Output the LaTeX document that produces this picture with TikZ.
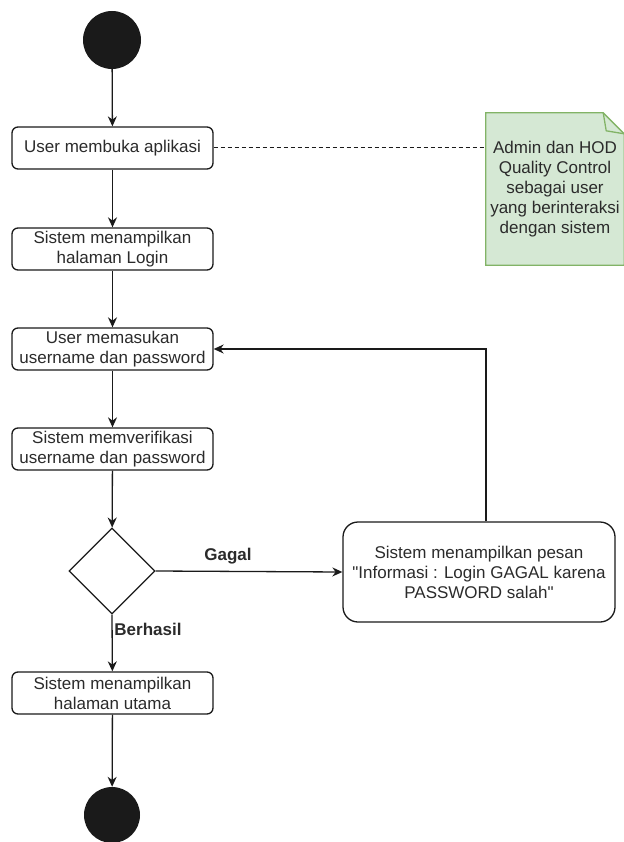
\documentclass[tikz,border=0pt]{standalone}
\usepackage{fontspec}
\setmainfont[Ligatures=TeXOff]{Liberation Sans}
\usetikzlibrary{arrows.meta,shapes.geometric,calc}
\definecolor{ink}{HTML}{1A1A1A}
\definecolor{txt}{HTML}{2B2B2B}
\definecolor{notefill}{HTML}{D5E8D4}
\definecolor{noteline}{HTML}{82B366}
\newcommand{\dq}{{\char34}}
\tikzset{
  every node/.style={font=\fontsize{17}{20}\selectfont, text=txt},
  actbox/.style={draw=ink, line width=1.3pt, rounded corners=6pt, fill=white,
    minimum width=201pt, minimum height=42pt, inner sep=2pt, align=center},
  msgbox/.style={draw=ink, line width=1.3pt, rounded corners=15pt, fill=white,
    minimum width=272pt, minimum height=100pt, align=center},
  dot/.style={circle, fill=ink, draw=none, inner sep=0pt},
  choice/.style={diamond, draw=ink, line width=1.3pt, fill=white,
    minimum width=86pt, minimum height=86pt, inner sep=0pt, aspect=1},
  flow/.style={draw=ink, line width=1.3pt, -{Stealth[length=10pt,width=9pt]}},
  lbl/.style={font=\bfseries\fontsize{17}{20}\selectfont},
  notetext/.style={minimum width=138pt, minimum height=152pt, align=center, inner sep=0pt},
}
\begin{document}
\begin{tikzpicture}[x=1pt,y=-1pt]
\useasboundingbox (0,0) rectangle (623,842);

% activity nodes
\node[dot, minimum size=58pt] (start) at (112,40) {};
\node[actbox] (b1) at (112.5,148) {User membuka aplikasi};
\node[actbox] (b2) at (112.5,249) {Sistem menampilkan\\halaman Login};
\node[actbox] (b3) at (112.5,349) {User memasukan\\username dan password};
\node[actbox] (b4) at (112.5,449) {Sistem memverifikasi\\username dan password};
\node[choice] (d) at (112,571) {};
\node[msgbox] (msg) at (479,572) {Sistem menampilkan pesan\\\dq Informasi : Login GAGAL karena\\PASSWORD salah\dq};
\node[actbox] (b5) at (112.5,693) {Sistem menampilkan\\halaman utama};
\node[dot, minimum size=56pt] (end) at (112,815) {};

% note with folded corner
\node[notetext] (note) at (555,189) {};
\filldraw[fill=notefill, draw=noteline, line width=1.3pt]
  (note.north west) -- ([xshift=-21pt]note.north east)
  -- ([yshift=-21pt]note.north east) -- (note.south east)
  -- (note.south west) -- cycle;
\draw[noteline, line width=1.3pt, line join=round]
  ([xshift=-21pt]note.north east) -- ([xshift=-18pt,yshift=-18pt]note.north east)
  -- ([yshift=-21pt]note.north east);
\node[align=center] (notetxt) at (555,189) {Admin dan HOD\\Quality Control\\sebagai user\\yang berinteraksi\\dengan sistem};

% connectors
\draw[flow] (start) -- (b1);
\draw[flow] (b1) -- (b2);
\draw[flow] (b2) -- (b3);
\draw[flow] (b3) -- (b4);
\draw[flow] (b4) -- (d);
\draw[flow] (d.east) -- (msg.west);
\draw[flow] (d.south) -- (b5);
\draw[flow] (b5) -- (end);
\coordinate (up) at (486,349);
\draw[flow] (msg.north -| up) -- (up) -- (b3.east);
\draw[ink, line width=1pt, dash pattern=on 4pt off 3pt] (b1.east) -- (b1.east -| note.west);

% branch labels
\node[lbl] (gagal) at (228,556) {Gagal};
\node[lbl] (berhasil) at (148,629) {Berhasil};
\end{tikzpicture}
\end{document}
